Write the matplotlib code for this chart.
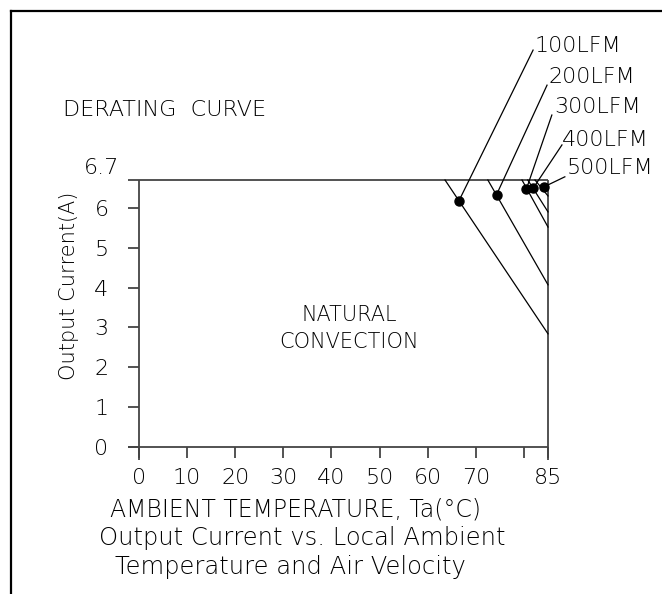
import numpy as np
import matplotlib
matplotlib.use("Agg")
import matplotlib.pyplot as plt
from matplotlib.lines import Line2D

# === data ===
air_flow = ["100LFM", "200LFM", "300LFM", "400LFM", "500LFM"]
t_start = [63.6, 72.5, 79.6, 80.8, 82.3]     # temp where derating starts (at 6.7A)
i_end = [2.84, 4.07, 5.52, 5.90, 6.30]       # current left at 85C
dot_t = [66.5, 74.3, 80.5, 81.9, 84.2]
dot_i = [6.18, 6.33, 6.47, 6.49, 6.53]

i_max = 6.7
t_max = 85
x_ticks = [0, 10, 20, 30, 40, 50, 60, 70, 80, 85]
x_tick_labels = ["0", "10", "20", "30", "40", "50", "60", "70", "", "85"]
y_ticks = [0, 1, 2, 3, 4, 5, 6]

# label anchor (data coords, outside the box)
lab_t = [82.3, 85.0, 86.2, 87.9, 88.9]
lab_i = [10.06, 9.28, 8.53, 7.70, 7.00]
lead_t = [81.9, 84.8, 85.8, 87.9, 88.5]
lead_i = [9.96, 9.08, 8.33, 7.58, 6.78]

plt.rcParams['font.family'] = ['DejaVu Sans']
fw = 'light'

fig = plt.figure(figsize=(6.62, 5.94), dpi=100)
ax = fig.add_axes([139 / 662, 1 - 447 / 594, 409 / 662, 267 / 594])
ax.set_xlim(0, t_max)
ax.set_ylim(0, i_max)
for s in ax.spines.values():
    s.set_visible(False)

axis_kw = dict(color='#444444', lw=1.3, clip_on=False, solid_capstyle='butt')
# box: bottom, left, top, right
ax.plot([-2.3, t_max], [0, 0], **axis_kw)
ax.plot([0, 0], [-0.33, i_max], **axis_kw)
ax.plot([-2.3, t_max], [i_max, i_max], **axis_kw)
ax.plot([t_max, t_max], [-0.33, i_max], **axis_kw)

ax.set_xticks(x_ticks)
ax.set_xticklabels(x_tick_labels)
ax.set_yticks(y_ticks)
ax.tick_params(axis='both', direction='out', length=8, width=1.3, color='#444444',
               labelsize=16, pad=7)
ax.tick_params(axis='y', pad=14)
for lb in ax.get_xticklabels() + ax.get_yticklabels():
    lb.set_fontweight(fw)
ax.text(-4.1, i_max + 0.04, "6.7", ha='right', va='bottom', fontsize=16, fontweight=fw)

# derating lines, dots and leader lines
for k in range(len(air_flow)):
    ax.plot([t_start[k], t_max], [i_max, i_end[k]], color='black', lw=0.9, clip_on=False)
    ax.plot([dot_t[k], lead_t[k]], [dot_i[k], lead_i[k]], color='black', lw=0.9, clip_on=False)
    ax.plot(dot_t[k], dot_i[k], 'o', color='black', ms=6.5, clip_on=False, zorder=5)
    ax.text(lab_t[k], lab_i[k], air_flow[k], ha='left', va='center', fontsize=16,
            fontweight=fw, clip_on=False)

ax.text(43.7, 3.32, "NATURAL", ha='center', va='center', fontsize=15, fontweight=fw)
ax.text(43.7, 2.64, "CONVECTION", ha='center', va='center', fontsize=15, fontweight=fw)

ax.set_ylabel("Output Current(A)", fontsize=15, fontweight=fw)
ax.yaxis.set_label_coords(-0.147, 0.603)

fig.text(63 / 662, 1 - 110 / 594, "DERATING  CURVE", ha='left', va='center',
         fontsize=16, fontweight=fw)
fig.text(296 / 662, 1 - 510 / 594, "AMBIENT TEMPERATURE, Ta(°C)", ha='center',
         va='center', fontsize=17, fontweight=fw)
fig.text(302 / 662, 1 - 538 / 594, "Output Current vs. Local Ambient", ha='center',
         va='center', fontsize=17.5, fontweight=fw)
fig.text(290 / 662, 1 - 567 / 594, "Temperature and Air Velocity", ha='center',
         va='center', fontsize=17.5, fontweight=fw)

# frame lines at top and left
fig.add_artist(Line2D([11 / 662, 1], [1 - 11 / 594, 1 - 11 / 594], color='black', lw=1.6))
fig.add_artist(Line2D([11 / 662, 11 / 662], [0, 1 - 11 / 594], color='black', lw=1.6))

fig.savefig("out.png", dpi=100)
plt.close()
